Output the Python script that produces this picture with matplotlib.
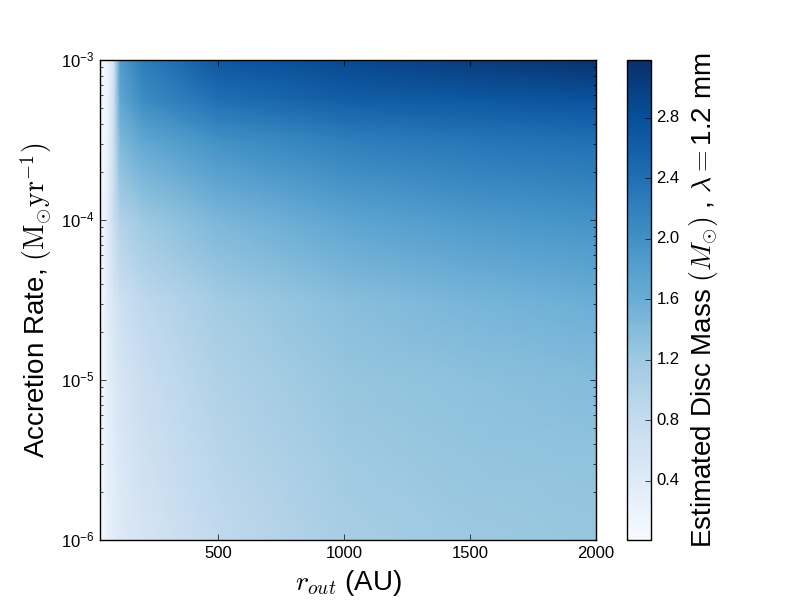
import numpy as np
import matplotlib
matplotlib.use('Agg')
import matplotlib.pyplot as plt

###############################################################################

# outer radius grid (AU) and log10 accretion rate grid
r_out = [30, 60, 85, 110, 200, 500, 1000, 1500, 2000]
log_mdot = [-6.0, -5.5, -5.0, -4.5, -4.0, -3.5, -3.25, -3.0]

# estimated disc mass, one row per accretion rate
mass_m600 = [0.07, 0.25, 0.33, 0.42, 0.55, 0.85, 1.10, 1.20, 1.25]
mass_m550 = [0.07, 0.28, 0.38, 0.48, 0.65, 0.93, 1.18, 1.27, 1.30]
mass_m500 = [0.06, 0.30, 0.42, 0.55, 0.72, 1.02, 1.25, 1.33, 1.40]
mass_m450 = [0.05, 0.35, 0.52, 0.68, 0.87, 1.15, 1.37, 1.50, 1.60]
mass_m400 = [0.05, 0.35, 0.75, 1.00, 1.20, 1.47, 1.72, 1.87, 1.97]
mass_m350 = [0.05, 0.20, 0.75, 1.45, 1.70, 2.00, 2.22, 2.32, 2.40]
mass_m325 = [0.05, 0.18, 0.70, 1.70, 2.05, 2.40, 2.60, 2.68, 2.75]
mass_m300 = [0.05, 0.15, 0.60, 1.85, 2.25, 2.70, 2.88, 3.02, 3.15]

cbar_ticks = [0.4, 0.8, 1.2, 1.6, 2.0, 2.4, 2.8]

###############################################################################

plt.style.use('classic')
plt.rcParams['font.family'] = ['Liberation Sans', 'DejaVu Sans']
plt.rcParams['mathtext.fontset'] = 'cm'

mass = np.array([mass_m600, mass_m550, mass_m500, mass_m450,
                 mass_m400, mass_m350, mass_m325, mass_m300])
X, Y = np.meshgrid(np.array(r_out), 10**np.array(log_mdot))

fig, ax = plt.subplots(figsize=(8, 6), dpi=100)
fig.patch.set_facecolor('white')

mesh = ax.pcolormesh(X, Y, mass, shading='gouraud', cmap='Blues',
                     vmin=0.01, vmax=3.18)
ax.set_yscale('log')
ax.set_xlim(30, 2000)
ax.set_ylim(1e-6, 1e-3)
ax.set_xticks([500, 1000, 1500, 2000])

ax.set_xlabel(r'$r_{out}$ (AU)', fontsize=20)
ax.set_ylabel(r'Accretion Rate, $(\mathrm{M_{\odot}yr^{-1}})$', fontsize=20)

cb = fig.colorbar(mesh, ax=ax, ticks=cbar_ticks)
cb.set_label(r'Estimated Disc Mass $(M_{\odot})$ , $\lambda=$1.2 mm', fontsize=20)

fig.savefig('out.png', dpi=100, facecolor='white')
